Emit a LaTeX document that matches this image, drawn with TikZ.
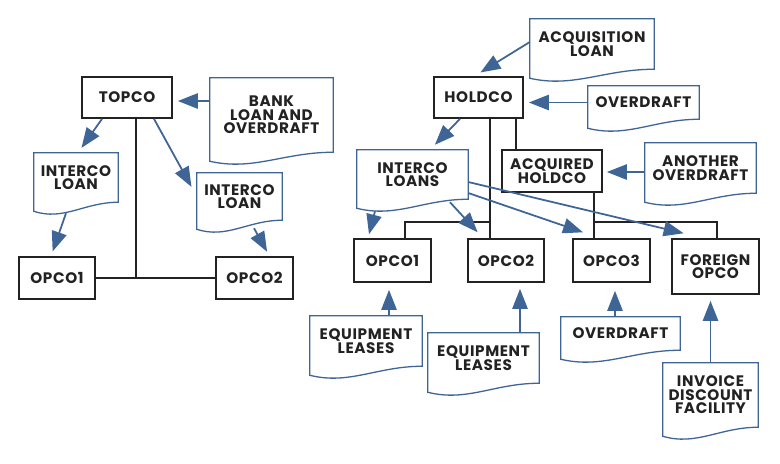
\documentclass[tikz,border=0pt]{standalone}
\usepackage{fontspec}
\setmainfont{Poppins}[LetterSpace=4]
\usetikzlibrary{arrows.meta,calc}
\newlength{\pxu}\setlength{\pxu}{0.03cm}
\definecolor{docblue}{HTML}{3E6596}
\definecolor{boxline}{HTML}{222222}
\tikzset{
    co/.style={draw=boxline, line width=1.5pt, align=center, inner sep=0pt},
    doc/.style={align=center, inner sep=0pt},
    docline/.style={draw=docblue, line width=1.1pt, line join=miter},
    tree/.style={draw=boxline, line width=1.5pt},
    flow/.style={draw=docblue, line width=1.5pt, -{Triangle[length=17pt,width=13pt]}}
}
\begin{document}
\begin{tikzpicture}[x=0.03cm, y=-0.03cm, font=\bfseries\fontsize{13}{11.5}\selectfont, text=boxline]
    \fill[white] (0,0) rectangle (780,463);
    \useasboundingbox (0,0) rectangle (780,463);

    % left group
    \node [co, minimum width=90\pxu, minimum height=41\pxu] (topco) at (127,97.5) {TOPCO};
    \node [co, minimum width=76\pxu, minimum height=42\pxu] (opcoA) at (57,278) {OPCO1};
    \node [co, minimum width=77\pxu, minimum height=42\pxu] (opcoB) at (254.5,278) {OPCO2};
    \node [doc, minimum width=123\pxu, minimum height=74\pxu] (bank) at (271.5,115) {BANK\\LOAN AND\\OVERDRAFT};
    \node [doc, minimum width=84\pxu, minimum height=49\pxu] (iloanA) at (76,177.5) {INTERCO\\LOAN};
    \node [doc, minimum width=85\pxu, minimum height=47\pxu] (iloanB) at (239.5,196.5) {INTERCO\\LOAN};

    % right group
    \node [co, minimum width=89\pxu, minimum height=41\pxu] (holdco) at (478.5,97.5) {HOLDCO};
    \node [co, minimum width=100\pxu, minimum height=42\pxu] (acqh) at (552,171) {ACQUIRED\\HOLDCO};
    \node [co, minimum width=77\pxu, minimum height=43\pxu] (opco1) at (392.5,260.5) {OPCO1};
    \node [co, minimum width=76\pxu, minimum height=43\pxu] (opco2) at (506,260.5) {OPCO2};
    \node [co, minimum width=77\pxu, minimum height=43\pxu] (opco3) at (611.5,260.5) {OPCO3};
    \node [co, minimum width=87\pxu, minimum height=55\pxu] (foreign) at (715.5,266.5) {FOREIGN\\OPCO};
    \node [doc, minimum width=124\pxu, minimum height=50\pxu] (acq) at (592,44) {ACQUISITION\\LOAN};
    \node [doc, minimum width=111\pxu, minimum height=33\pxu] (odA) at (643.5,102.5) {OVERDRAFT};
    \node [doc, minimum width=111\pxu, minimum height=49\pxu] (iloans) at (412.5,174.5) {INTERCO\\LOANS};
    \node [doc, minimum width=111\pxu, minimum height=50\pxu] (odB) at (700.5,168) {ANOTHER\\OVERDRAFT};
    \node [doc, minimum width=112\pxu, minimum height=50\pxu] (leaseA) at (366,341) {EQUIPMENT\\LEASES};
    \node [doc, minimum width=111\pxu, minimum height=50\pxu] (leaseB) at (483.5,358) {EQUIPMENT\\LEASES};
    \node [doc, minimum width=119\pxu, minimum height=33\pxu] (odC) at (620.5,333.5) {OVERDRAFT};
    \node [doc, minimum width=95\pxu, minimum height=64\pxu] (invoice) at (710.5,395) {INVOICE\\DISCOUNT\\FACILITY};

    % document outlines with wavy bottom
    \foreach \n in {bank,iloanA,iloanB,acq,odA,iloans,odB,leaseA,leaseB,odC,invoice}
    {
        \draw [docline] ([yshift=-9\pxu]\n.south west) -- (\n.north west) -- (\n.north east) -- (\n.south east)
            .. controls ($(\n.south west)!0.6!(\n.south east)$) and ($(\n.south west)!0.35!(\n.south east)+(0,19)$)
            .. ([yshift=-9\pxu]\n.south west) -- cycle;
    }

    % ownership lines
    \coordinate (tbus) at (136,278);
    \coordinate (hbus) at (490,222);
    \coordinate (abus) at (594,222);
    \draw [tree] (opcoA.east) -- (opcoB.west);
    \draw [tree] (topco.south -| tbus) -- (tbus);
    \draw [tree] (holdco.south -| hbus) -- (opco2.north -| hbus);
    \draw [tree] (hbus) -| ([xshift=12.5\pxu]opco1.north);
    \draw [tree] ([xshift=37.5\pxu]holdco.south) -- ([xshift=37.5\pxu]holdco.south |- acqh.north);
    \draw [tree] (acqh.south -| abus) -- (opco3.north -| abus);
    \draw [tree] (abus) -| ([xshift=1.5\pxu]foreign.north);

    % funding arrows
    \draw [flow, shorten >=5\pxu] ([yshift=14\pxu]bank.west) -- ([yshift=-3.5\pxu]topco.east);
    \draw [flow, shorten >=6\pxu] ([xshift=-25\pxu]topco.south) -- ([xshift=2\pxu]iloanA.north);
    \draw [flow, shorten >=11\pxu] ([xshift=27\pxu]topco.south) -- (iloanB.west);
    \draw [flow, shorten >=5\pxu] ([xshift=-10\pxu,yshift=-11\pxu]iloanA.south) -- ([xshift=-6\pxu]opcoA.north);
    \draw [flow, shorten >=5\pxu] ([xshift=14.5\pxu,yshift=-8\pxu]iloanB.south) -- ([xshift=15\pxu]opcoB.north);

    \draw [flow, shorten >=7\pxu] ([yshift=2\pxu]acq.west) -- ([xshift=-4\pxu]holdco.north);
    \draw [flow, shorten >=5\pxu] (odA.west) -- ([yshift=-5\pxu]holdco.east);
    \draw [flow, shorten >=7\pxu] ([xshift=-18.5\pxu]holdco.south) -- ([xshift=17.5\pxu]iloans.north);
    \draw [flow, shorten >=4\pxu] ([yshift=-4\pxu]odB.west) -- ([yshift=-1\pxu]acqh.east);
    \draw [flow, shorten >=4\pxu] ([xshift=-37.5\pxu,yshift=-12\pxu]iloans.south) -- ([xshift=-24.5\pxu]opco1.north);
    \draw [flow, shorten >=8\pxu] ([xshift=37.5\pxu,yshift=-3\pxu]iloans.south) -- ([xshift=-23\pxu]opco2.north);
    \draw [flow, shorten >=18\pxu] ([yshift=-18.5\pxu]iloans.east) -- ([xshift=-11.5\pxu]opco3.north);
    \draw [flow, shorten >=21\pxu] ([yshift=-7.5\pxu]iloans.east) -- ([xshift=-11.5\pxu]foreign.north);

    \draw [flow, shorten >=7\pxu] ([xshift=23\pxu]leaseA.north) -- ([xshift=23\pxu]leaseA.north |- opco1.south);
    \draw [flow, shorten >=6\pxu] ([xshift=36.5\pxu]leaseB.north) -- ([xshift=36.5\pxu]leaseB.north |- opco2.south);
    \draw [flow, shorten >=8\pxu] ([xshift=-5.5\pxu]odC.north) -- ([xshift=-5.5\pxu]odC.north |- opco3.south);
    \draw [flow, shorten >=6\pxu] (invoice.north) -- (invoice.north |- foreign.south);
\end{tikzpicture}
\end{document}
